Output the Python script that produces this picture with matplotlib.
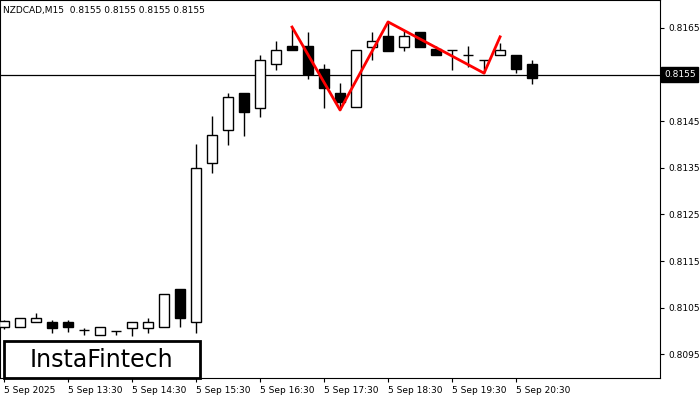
import matplotlib.pyplot as plt
from matplotlib.patches import Rectangle

# OHLC for NZDCAD M15 candles, 12:30 onward
opens  = [.81008, .81008, .81019, .81019, .81019, .81001, .80991, .80999, .81006, .81006,
          .81008, .81090, .81019, .81360, .81431, .81511, .81478, .81573, .81611, .81611,
          .81562, .81511, .81480, .81609, .81633, .81609, .81641, .81605, .81603, .81592,
          .81581, .81592, .81592, .81573]
highs  = [.81024, .81028, .81038, .81023, .81023, .81006, .81008, .80999, .81019, .81028,
          .81079, .81090, .81401, .81461, .81511, .81511, .81592, .81622, .81652, .81641,
          .81573, .81532, .81603, .81641, .81663, .81646, .81641, .81611, .81603, .81611,
          .81581, .81618, .81592, .81581]
lows   = [.81005, .81008, .81019, .80995, .80997, .80991, .80991, .80991, .80989, .80995,
          .81008, .81008, .80995, .81339, .81399, .81418, .81459, .81560, .81603, .81541,
          .81478, .81474, .81480, .81581, .81601, .81601, .81609, .81592, .81560, .81567,
          .81553, .81592, .81553, .81530]
closes = [.81021, .81028, .81028, .81006, .81008, .81001, .81008, .80999, .81019, .81019,
          .81079, .81028, .81350, .81420, .81502, .81470, .81581, .81603, .81603, .81551,
          .81521, .81491, .81603, .81622, .81601, .81633, .81609, .81592, .81603, .81592,
          .81581, .81603, .81562, .81543]

# pattern line (candle index, price)
pattern_idx = [18, 21, 24, 30, 31]
pattern_px = [.81652, .81474, .81663, .81553, .81631]

tick_idx = [0, 4, 8, 12, 16, 20, 24, 28, 32]
tick_labels = ['5 Sep 2025', '5 Sep 13:30', '5 Sep 14:30', '5 Sep 15:30', '5 Sep 16:30',
               '5 Sep 17:30', '5 Sep 18:30', '5 Sep 19:30', '5 Sep 20:30']
price_ticks = [0.8095, 0.8105, 0.8115, 0.8125, 0.8135, 0.8145, 0.8155, 0.8165]
last_price = 0.8155

fig = plt.figure(figsize=(7, 4), dpi=100)
ax = fig.add_axes([0.0, 0.055, 0.943, 0.945])

w = 0.62
for i, (o, h, l, c) in enumerate(zip(opens, highs, lows, closes)):
    ax.vlines(i, l, h, color='black', lw=1, zorder=2)
    bot, top = min(o, c), max(o, c)
    ax.add_patch(Rectangle((i - w / 2, bot), w, max(top - bot, 0.000005),
                           facecolor='white' if c >= o else 'black',
                           edgecolor='black', lw=1, zorder=3))

ax.axhline(last_price, color='black', lw=0.9, zorder=1)
ax.plot(pattern_idx, pattern_px, color='red', lw=2, zorder=4)

ax.set_xlim(-0.25, 41)
ax.set_ylim(0.80899, 0.81710)
ax.set_xticks(tick_idx)
ax.set_xticklabels(tick_labels, fontsize=6.5, ha='left')
ax.tick_params(axis='x', length=3, pad=3)
ax.yaxis.tick_right()
ax.set_yticks(price_ticks)
# the 0.8155 label is shown in the black price box instead
ax.set_yticklabels(['' if p == last_price else f'{p:.4f}' for p in price_ticks], fontsize=6.5)
ax.tick_params(axis='y', length=3, pad=3)

ax.text(0.005, 0.985, 'NZDCAD,M15  0.8155 0.8155 0.8155 0.8155', transform=ax.transAxes,
        fontsize=6.5, va='top', ha='left')
ax.text(1.006, last_price, f'{last_price:.4f}', transform=ax.get_yaxis_transform(),
        fontsize=6.5, va='center', ha='left', color='white',
        bbox=dict(boxstyle='square,pad=0.3', fc='black', ec='black'), zorder=5)

fig.patches.append(Rectangle((0.005, 0.055), 0.28, 0.093, transform=fig.transFigure,
                             fc='white', ec='black', lw=2, zorder=10))
fig.text(0.145, 0.1, 'InstaFintech', fontsize=17, va='center', ha='center', zorder=11)

fig.savefig('out.png', dpi=100)
